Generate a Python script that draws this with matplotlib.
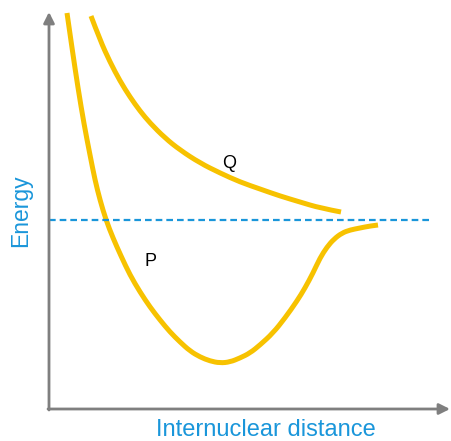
"""
Curvas de energía potencial P y Q frente a distancia internuclear
"""
import matplotlib.pyplot as plt
from matplotlib.path import Path
from matplotlib.patches import PathPatch

plt.rcParams['font.family'] = ['Liberation Sans', 'DejaVu Sans']

# Datos (unidades de píxel, eje y hacia abajo)
p_x = [67, 72, 78, 84, 90, 95, 100, 106, 113, 121, 130, 140, 150, 160, 170, 180,
       190, 200, 210, 220, 230, 240, 250, 260, 273, 285, 297, 305, 313, 320, 327,
       334, 342, 350, 360, 370, 378]
p_y = [13, 48, 88, 124, 155, 180, 200, 220, 238, 256, 275, 292, 307, 320, 332, 342,
       351, 357, 361, 363, 362, 358, 353, 345, 333, 318, 301, 288, 273, 258, 247,
       239, 233, 230, 228, 226, 225]

q_x = [91, 100, 110, 120, 130, 140, 150, 165, 180, 200, 220, 240, 260, 280, 300,
       320, 341]
q_y = [16, 40, 62, 81, 97, 111, 123, 138, 150, 163, 173, 182, 189, 196, 202,
       208, 212]

dash_y = 220
dash_x = [49, 429]

ORO = '#F7C200'
AZUL = '#1A96DA'
GRIS = '#7F7F7F'


def curva_suave(ax, xs, ys, **kw):
    """Dibuja la curva suavizada (bezier cuadrática por puntos medios)"""
    pts = list(zip(xs, ys))
    verts = [pts[0]]
    codes = [Path.MOVETO]
    for i in range(1, len(pts) - 1):
        mid = ((pts[i][0] + pts[i + 1][0]) / 2, (pts[i][1] + pts[i + 1][1]) / 2)
        if i == len(pts) - 2:
            mid = pts[-1]
        verts += [pts[i], mid]
        codes += [Path.CURVE3, Path.CURVE3]
    ax.add_patch(PathPatch(Path(verts, codes), fill=False, **kw))


fig = plt.figure(figsize=(4.51, 4.41), dpi=100)
ax = fig.add_axes([0, 0, 1, 1])
ax.set_xlim(0, 451)
ax.set_ylim(441, 0)
ax.axis('off')

# Ejes con flecha
ax.annotate('', xy=(49, 12), xytext=(49, 410), annotation_clip=False,
            arrowprops=dict(arrowstyle='-|>', color=GRIS, lw=2, mutation_scale=16,
                            shrinkA=0, shrinkB=0))
ax.annotate('', xy=(450, 409), xytext=(48, 409), annotation_clip=False,
            arrowprops=dict(arrowstyle='-|>', color=GRIS, lw=2, mutation_scale=16,
                            shrinkA=0, shrinkB=0))

# Línea discontinua
ax.plot(dash_x, [dash_y, dash_y], color=AZUL, lw=1.6, linestyle=(0, (3, 1.8)))

# Curvas
curva_suave(ax, p_x, p_y, edgecolor=ORO, lw=3.6, joinstyle='round', capstyle='butt')
curva_suave(ax, q_x, q_y, edgecolor=ORO, lw=3.6, joinstyle='round', capstyle='butt')

ax.text(229, 164, 'Q', fontsize=13, color='black', ha='center', va='center')
ax.text(151, 261, 'P', fontsize=13, color='black', ha='center', va='center')

ax.text(266, 430, 'Internuclear distance', fontsize=17, color=AZUL,
        ha='center', va='center')
ax.text(21, 211, 'Energy', fontsize=16.5, color=AZUL, rotation=90,
        ha='center', va='center')

plt.savefig('out.png', dpi=100)
plt.close()
